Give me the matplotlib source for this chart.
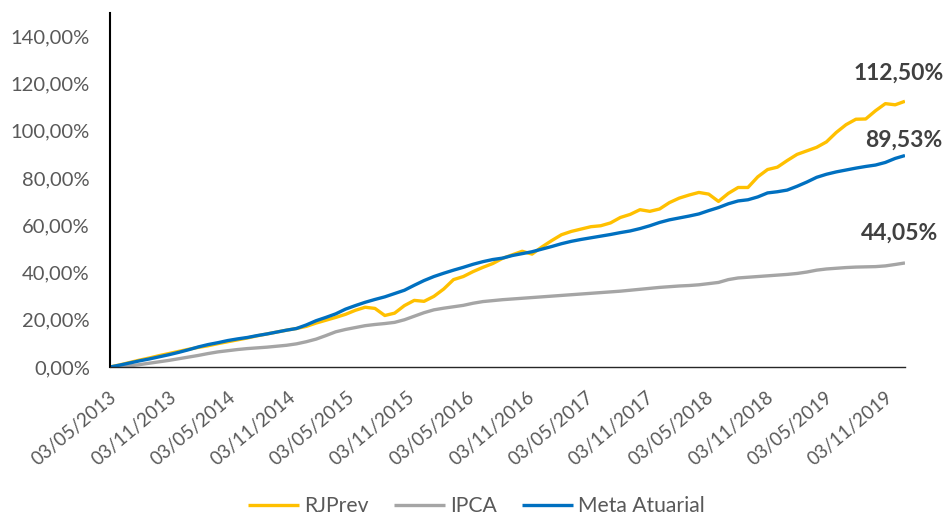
import pandas as pd
import matplotlib
matplotlib.use("Agg")
import matplotlib.pyplot as plt
import matplotlib.dates as mdates
import matplotlib.transforms as mtransforms
from matplotlib.ticker import FuncFormatter

# readings taken at ~monthly steps between 03/05/2013 and 31/12/2019
start = pd.Timestamp("2013-05-03")
end = pd.Timestamp("2019-12-31")
dates = pd.date_range(start, end, periods=82)

rjprev = [0.0, 0.9, 1.9, 2.9, 3.8, 4.8, 5.7, 6.6, 7.5, 8.3,
          9.0, 9.9, 10.7, 11.5, 12.3, 13.2, 14.0, 14.8, 15.6, 16.3,
          17.2, 18.6, 19.8, 21.0, 22.3, 24.0, 25.3, 24.8, 21.8, 22.8,
          26.0, 28.2, 27.8, 29.9, 33.0, 37.0, 38.3, 40.4, 42.2, 43.8,
          46.0, 47.5, 49.0, 47.8, 50.8, 53.5, 56.0, 57.4, 58.4, 59.4,
          59.8, 61.0, 63.3, 64.6, 66.6, 65.9, 66.9, 69.6, 71.5, 72.8,
          73.9, 73.2, 70.1, 73.5, 76.0, 76.0, 80.5, 83.6, 84.6, 87.4,
          90.0, 91.5, 93.0, 95.3, 99.3, 102.6, 104.9, 105.0, 108.5, 111.5,
          111.0, 112.5]

ipca = [0.0, 0.2, 0.5, 1.0, 1.6, 2.2, 2.8, 3.5, 4.2, 4.9,
        5.7, 6.4, 6.9, 7.4, 7.8, 8.1, 8.4, 8.8, 9.2, 9.8,
        10.7, 11.8, 13.3, 14.9, 15.9, 16.7, 17.5, 18.0, 18.4, 18.9,
        20.0, 21.5, 23.0, 24.2, 24.9, 25.5, 26.1, 27.0, 27.7, 28.1,
        28.5, 28.8, 29.1, 29.4, 29.7, 30.0, 30.3, 30.6, 30.9, 31.2,
        31.5, 31.8, 32.1, 32.5, 32.9, 33.3, 33.7, 34.0, 34.3, 34.5,
        34.8, 35.3, 35.8, 37.0, 37.7, 38.0, 38.3, 38.6, 38.9, 39.2,
        39.6, 40.2, 41.0, 41.5, 41.8, 42.1, 42.3, 42.4, 42.5, 42.8,
        43.4, 44.05]

meta = [0.0, 0.8, 1.7, 2.6, 3.4, 4.3, 5.2, 6.2, 7.3, 8.5,
        9.5, 10.3, 11.2, 11.9, 12.5, 13.3, 14.0, 14.8, 15.6, 16.3,
        17.8, 19.6, 21.0, 22.5, 24.5, 26.0, 27.4, 28.6, 29.7, 31.1,
        32.5, 34.6, 36.6, 38.3, 39.7, 41.0, 42.2, 43.5, 44.6, 45.5,
        46.1, 47.2, 48.0, 48.8, 49.9, 51.0, 52.2, 53.2, 54.0, 54.7,
        55.4, 56.1, 56.9, 57.6, 58.6, 59.8, 61.2, 62.3, 63.1, 63.9,
        64.8, 66.2, 67.5, 69.1, 70.3, 70.8, 72.0, 73.7, 74.2, 74.9,
        76.5, 78.3, 80.3, 81.6, 82.6, 83.4, 84.2, 84.9, 85.5, 86.6,
        88.3, 89.53]

series_names = ["RJPrev", "IPCA", "Meta Atuarial"]
colors = ["#FFC000", "#A5A5A5", "#0070C0"]
end_labels = ["112,50%", "89,53%", "44,05%"]

plt.rcParams["font.family"] = ["Lato", "DejaVu Sans"]

fig = plt.figure(figsize=(9.49, 5.18), dpi=100)
ax = fig.add_axes([0.1159, 0.2915, 0.8377, 0.684])

for vals, name, c in zip([rjprev, ipca, meta], series_names, colors):
    ax.plot(dates, vals, color=c, lw=2.4, label=name, solid_capstyle="butt")

ax.set_xlim(dates[0], dates[-1])
ax.set_ylim(0, 150)
ax.set_yticks(range(0, 141, 20))
ax.yaxis.set_major_formatter(FuncFormatter(lambda v, p: f"{v:.2f}%".replace(".", ",")))

tick_dates = [start + pd.DateOffset(months=6 * k) for k in range(14)]
ax.set_xticks(tick_dates)
ax.xaxis.set_major_formatter(mdates.DateFormatter("%d/%m/%Y"))

ax.tick_params(axis="both", length=0, labelcolor="#595959")
ax.tick_params(axis="y", pad=14.5, labelsize=14.5)
ax.tick_params(axis="x", pad=20, labelsize=13.5)
offset = mtransforms.ScaledTranslation(3 / 72, 0, fig.dpi_scale_trans)
for lab in ax.get_xticklabels():
    lab.set_rotation(40)
    lab.set_ha("right")
    lab.set_va("center")
    lab.set_rotation_mode("anchor")
    lab.set_transform(lab.get_transform() + offset)

for s in ["top", "right"]:
    ax.spines[s].set_visible(False)
ax.spines["left"].set_color("black")
ax.spines["left"].set_linewidth(1.5)
ax.spines["bottom"].set_color("#262626")
ax.spines["bottom"].set_linewidth(1.0)

# end-of-series labels
label_pos = [(899, 73), (904, 140), (900, 233)]
for (px, py), txt in zip(label_pos, end_labels):
    fig.text(px / 949, 1 - py / 518, txt, ha="center", va="center",
             fontsize=16.5, fontweight="bold", color="#404040")

fig.legend(loc="center", bbox_to_anchor=(0.502, 1 - 506 / 518), ncol=3, frameon=False,
           fontsize=15.2, handlelength=2.4, columnspacing=1.2, handletextpad=0.25,
           labelcolor="#595959")

fig.savefig("out.png", dpi=100)
